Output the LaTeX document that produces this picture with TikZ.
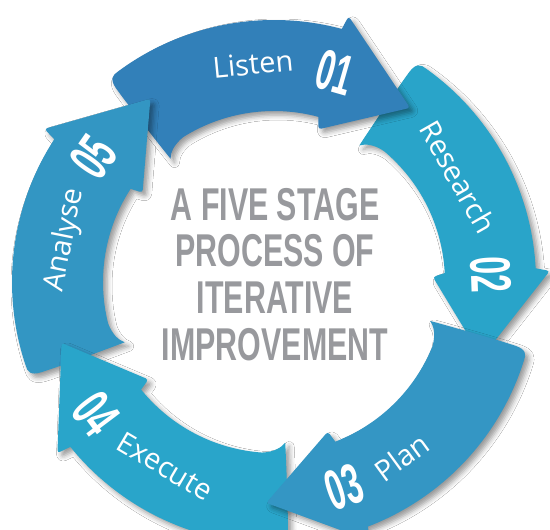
\documentclass[tikz,border=0pt]{standalone}
\usepackage{fontspec}
\setmainfont{Open Sans}
\newfontfamily\numfont[FakeStretch=0.56]{Liberation Sans}
\newfontfamily\titlefont[FakeStretch=0.66]{Liberation Sans}
\usetikzlibrary{shadows.blur}
\definecolor{clisten}{RGB}{50,128,185}
\definecolor{cresearch}{RGB}{41,164,201}
\definecolor{cplan}{RGB}{52,150,196}
\definecolor{cexecute}{RGB}{41,165,202}
\definecolor{canalyse}{RGB}{51,150,195}
\definecolor{ctitle}{RGB}{152,153,157}
\newcommand{\stagearrow}[2]{%
 \path[arrowshadow, fill=#2]
  ({#1+130}:161)
  .. controls ({#1+129.8}:190) and ({#1+129.5}:230) .. ({#1+129.2}:250)
  .. controls ({#1+129}:261) and ({#1+128}:262.5) .. ({#1+126.5}:262)
  arc[start angle=#1+126.5, end angle=#1+75, radius=262]
  [rounded corners=3pt] -- ({#1+74.3}:276) -- ({#1+52}:221) -- ({#1+73.8}:159) [sharp corners] -- ({#1+75}:171)
  arc[start angle=#1+75, end angle=#1+122, radius=171]
  .. controls ({#1+126}:170) and ({#1+128.5}:166) .. cycle;
}
\tikzset{
  arrowshadow/.style={blur shadow={shadow xshift=4pt, shadow yshift=-4pt, shadow blur radius=5pt, shadow opacity=40}},
  lbl/.style={text=white, inner sep=0pt, font=\fontsize{29}{32}\selectfont},
  num/.style={text=white, inner sep=0pt, font=\numfont\bfseries\fontsize{57}{60}\selectfont},
  title/.style={text=ctitle, inner sep=0pt, align=center, font=\titlefont\bfseries\fontsize{46}{46.7}\selectfont}
}
\begin{document}
\begin{tikzpicture}[x=1pt,y=1pt]
\useasboundingbox (-274,-248) rectangle (276,282);
\fill[white] (-274,-248) rectangle (276,282);
% draw order: Research, Listen, Analyse, Execute, Plan
\stagearrow{-72}{cresearch}
\stagearrow{0}{clisten}
\stagearrow{72}{canalyse}
\stagearrow{144}{cexecute}
\stagearrow{-144}{cplan}
% labels
\node[lbl, rotate=5.5] (listen) at (95.5:219) {Listen};
\node[num, rotate=-16] (n01) at (73.8:218) {01};
\node[lbl, rotate=-60.3] (research) at (29.7:212) {Research};
\node[num, rotate=-88] (n02) at (2:217) {02};
\node[lbl, rotate=36.2] (plan) at (-53.8:217) {Plan};
\node[num, rotate=19] (n03) at (-71.2:217) {03};
\node[lbl, rotate=-30.6] (execute) at (239.4:214) {Execute};
\node[num, rotate=-53] (n04) at (216.5:221) {04};
\node[lbl, rotate=78.6] (analyse) at (168.6:213) {Analyse};
\node[num, rotate=55] (n05) at (145.3:220) {05};
\node[title] (heading) at (1,7.5) {A FIVE STAGE\\PROCESS OF\\ITERATIVE\\IMPROVEMENT};
\end{tikzpicture}
\end{document}
